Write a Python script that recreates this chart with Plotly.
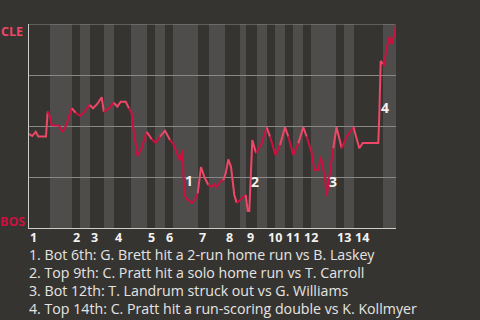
import numpy as np
import plotly.graph_objects as go

# ---- data ----
# game progress (plays, arbitrary units) and Cleveland win probability (%)
progress = [0, 3.3, 6.7, 9.3, 17, 18.7, 21, 22.5, 30, 33.5, 37.3, 42.7, 46.7, 51.5, 56.7, 60.7,
            64, 68.3, 72.7, 74.8, 80, 84.8, 88.3, 91.7, 96.7, 100, 102.7, 103.5, 108.5, 112.7,
            117.7, 122.7, 126.7, 131, 136, 141, 144.3, 147.7, 151, 153.5, 155.3, 158, 162.7,
            166, 168.7, 172, 175.3, 179.3, 182.7, 185.3, 187.7, 191, 194.3, 196.7, 199.3, 202,
            205.3, 207.7, 212.7, 216.7, 218.7, 220.3, 222, 223.3, 227, 229, 232.7, 237.7, 241,
            246.5, 251, 256, 259.3, 264.3, 269.3, 274.3, 277.7, 282.7, 285.3, 289.3, 291.7,
            294.3, 296, 297.7, 300, 302, 304.3, 307.5, 312.7, 317.7, 324.5, 330.3, 333.7,
            349.3, 350.3, 351, 351.7, 353.7, 355, 357.7, 360.3, 362.7, 364.3, 366, 367]
cle_win_pct = [46.1, 45.1, 47.2, 44.9, 44.9, 57.1, 54.4, 50.5, 50.2, 47.1, 50.5, 58.8, 56.5, 54.9,
               57.8, 60.3, 58.7, 60.8, 64.1, 56.9, 58.7, 61.4, 59.5, 61.9, 61.9, 58.7, 56.2, 51.3,
               35.3, 39.1, 47.2, 43.5, 41.8, 44.8, 47.7, 43.1, 41.2, 37.0, 33.1, 38.2, 16.2, 14.2,
               12.3, 13.7, 17.0, 29.9, 25.1, 21.1, 20.2, 21.4, 20.2, 22.7, 23.5, 26.8, 33.6, 30.0,
               16.2, 12.3, 14.6, 16.2, 8.3, 8.3, 29.3, 43.1, 36.8, 38.2, 41.5, 49.4, 44.8, 35.8,
               40.7, 49.4, 44.8, 35.8, 41.5, 49.4, 44.8, 36.8, 28.4, 28.4, 35.0, 28.4, 24.4, 15.7,
               24.4, 30.9, 39.1, 49.4, 39.1, 44.8, 49.4, 39.1, 41.7, 41.7, 55.4, 68.6, 81.9, 80.4,
               79.9, 88.1, 93.6, 90.2, 93.0, 96.2, 100]

# half-inning boundaries (same progress units)
half_bounds = [0, 21, 43, 51, 61, 75, 85, 102, 118, 126, 136, 144, 169, 180, 196, 211, 217,
               228, 238, 246, 256, 264, 274, 282, 307, 315, 325, 354, 367]
innings = [str(i) for i in range(1, 15)]

event_labels = ["1", "2", "3", "4"]
event_x = [160, 226, 304, 356]
event_y = [23.5, 22.7, 22.7, 59.3]
notes = [
    "1. Bot 6th: G. Brett hit a 2-run home run vs B. Laskey",
    "2. Top 9th: C. Pratt hit a solo home run vs T. Carroll",
    "3. Bot 12th: T. Landrum struck out vs G. Williams",
    "4. Top 14th: C. Pratt hit a run-scoring double vs K. Kollmyer",
]
teams = ["CLE", "BOS"]

# ---- style ----
BG = "#363431"
BAND = "#4f4d4b"
CLE_C = "#ee4767"
BOS_C = "#cc1040"
GRID = "#8a8886"
AXIS = "#cfcdcb"
FONT = "Open Sans, Noto Sans, sans-serif"

fig = go.Figure()

# bands for bottom halves
shapes = []
for i in range(len(half_bounds) - 1):
    if i % 2 == 1:
        shapes.append(dict(type="rect", xref="x", yref="paper", x0=half_bounds[i], x1=half_bounds[i + 1],
                           y0=0, y1=1, fillcolor=BAND, line=dict(width=0), layer="below"))
# top gridline (100 %)
shapes.append(dict(type="line", xref="paper", yref="y", x0=0, x1=1, y0=100, y1=100,
                   line=dict(color=GRID, width=1), layer="between"))

# line, coloured by batting team
x = np.array(progress)
y = np.array(cle_win_pct)
half_idx = np.clip(np.searchsorted(half_bounds, x, side="right") - 1, 0, len(half_bounds) - 2)
seg_col = [half_idx[j] % 2 for j in range(1, len(x))]
start = 0
for j in range(1, len(seg_col) + 1):
    if j == len(seg_col) or seg_col[j] != seg_col[start]:
        fig.add_trace(go.Scatter(x=x[start:j + 1], y=y[start:j + 1], mode="lines",
                                 line=dict(color=CLE_C if seg_col[start] == 0 else BOS_C, width=2),
                                 hoverinfo="skip", showlegend=False, cliponaxis=False))
        start = j

ann = []
for lab, ex, ey in zip(event_labels, event_x, event_y):
    ann.append(dict(x=ex, y=ey, xref="x", yref="y", text=lab, showarrow=False,
                    font=dict(family=FONT, size=14, color="#f2f2f2", weight="bold"),
                    xanchor="center", yanchor="middle"))

# inning labels
for k, lab in enumerate(innings):
    ann.append(dict(x=half_bounds[2 * k], y=-0.047, xref="x", yref="paper", text=lab, showarrow=False,
                    font=dict(family=FONT, size=12.5, color="#f2f2f2", weight="bold"),
                    xanchor="left", yanchor="middle", xshift=0, borderpad=0))

# team labels
ann.append(dict(x=0, y=0.964, xref="paper", yref="paper", text=teams[0], showarrow=False,
                font=dict(family=FONT, size=12.5, color=CLE_C, weight="bold"),
                xanchor="right", yanchor="middle", xshift=-4))
ann.append(dict(x=0, y=0.034, xref="paper", yref="paper", text=teams[1], showarrow=False,
                font=dict(family=FONT, size=12.5, color=BOS_C, weight="bold"),
                xanchor="right", yanchor="middle", xshift=-2))

# notes
note_y = [-0.1315, -0.219, -0.3065, -0.394]
for t, ny in zip(notes, note_y):
    ann.append(dict(x=0, y=ny, xref="paper", yref="paper", text=t, showarrow=False,
                    font=dict(family=FONT, size=14.2, color="#e6e4e2"),
                    xanchor="left", yanchor="middle", xshift=-1, borderpad=0))

fig.update_layout(
    width=480, height=320,
    margin=dict(l=29, r=84, t=24, b=92),
    paper_bgcolor=BG, plot_bgcolor=BG,
    shapes=shapes, annotations=ann,
    xaxis=dict(range=[0, 367], showgrid=False, zeroline=False, showticklabels=False,
               showline=True, linecolor=AXIS, linewidth=1, ticks=""),
    yaxis=dict(range=[0, 100], tickvals=[0, 25, 50, 75, 100], showticklabels=False,
               showgrid=True, gridcolor=GRID, gridwidth=1, zeroline=False,
               showline=True, linecolor=AXIS, linewidth=1, ticks=""),
)

fig.write_html("out.html")
